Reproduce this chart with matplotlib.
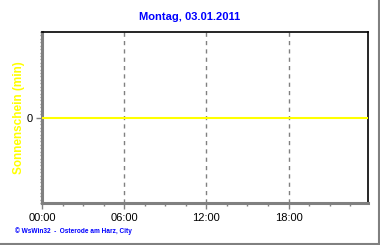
import matplotlib
matplotlib.use("Agg")
import matplotlib.pyplot as plt
from matplotlib.lines import Line2D
import numpy as np

title = "Montag, 03.01.2011"
ylabel = "Sonnenschein (min)"
footer = "\u00a9 WsWin32  -  Osterode am Harz, City"
hours = [0.0, 23.8]
sunshine = [0, 0]
xticks = [0, 6, 12, 18]
xticklabels = ["00:00", "06:00", "12:00", "18:00"]

plt.rcParams['font.family'] = ['Liberation Sans', 'DejaVu Sans']

fig = plt.figure(figsize=(3.8, 2.45), dpi=100)
ax = fig.add_axes([42/380, 1-203/245, 326/380, 171/245])

ax.plot(hours, sunshine, color='#ffff00', lw=1.5, solid_capstyle='butt', zorder=3)
ax.set_xlim(0, 23.8)
ax.set_ylim(-1, 1)
ax.set_xticks(xticks)
ax.set_xticklabels(xticklabels, fontsize=8)
ax.set_xticks(np.arange(0, 23.8, 1.5), minor=True)
ax.set_yticks([0])
ax.set_yticklabels(["0"], fontsize=8)
ax.set_yticks(np.arange(-1, 1.001, 0.04), minor=True)
for x in xticks[1:]:
    ax.axvline(x, color='#808080', lw=1, ls=(0, (3, 3)), zorder=2)

for s in ['top', 'right']:
    ax.spines[s].set_color('black')
    ax.spines[s].set_linewidth(1.2)
for s in ['left', 'bottom']:
    ax.spines[s].set_color('#808080')
    ax.spines[s].set_linewidth(2.2)

ax.tick_params(axis='x', which='major', length=4, width=1, color='#808080', pad=3)
ax.tick_params(axis='x', which='minor', length=2, width=1, color='#808080')
ax.tick_params(axis='y', which='major', length=4, width=1, color='#808080', pad=3)
ax.tick_params(axis='y', which='minor', length=1.5, width=1, color='#808080')

ax.set_ylabel(ylabel, color='#ffff00', fontsize=8.5, fontweight='bold', labelpad=0.5)
fig.text(190/380, 1-17/245, title, color='#0000ff', fontsize=8, fontweight='bold',
         ha='center', va='center')
fig.text(15/380, 1-231/245, footer, color='#0000ff', fontsize=4.7, fontweight='bold',
         ha='left', va='center')

fig.add_artist(Line2D([378.5/380, 378.5/380], [0, 1], color='#808080', lw=1.5, transform=fig.transFigure))
fig.add_artist(Line2D([0, 1], [1-243.5/245, 1-243.5/245], color='#808080', lw=1.5, transform=fig.transFigure))

fig.savefig("out.png", dpi=100)
